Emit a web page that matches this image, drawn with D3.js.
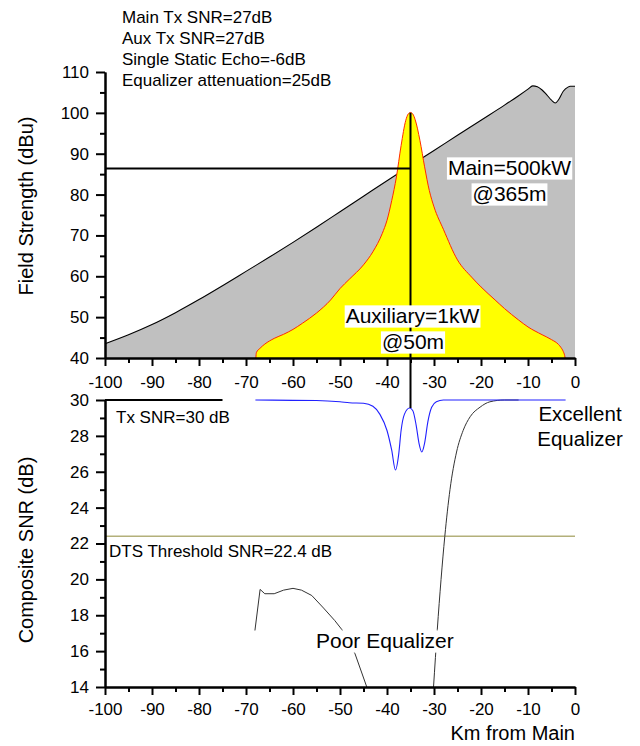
<!DOCTYPE html>
<html>
<head>
<meta charset="utf-8">
<script src="https://cdn.jsdelivr.net/npm/d3@7"></script>
<style>
  html, body { margin: 0; padding: 0; background: #fff; }
  svg text { font-family: "Liberation Sans", Arial, sans-serif; fill: #000; }
</style>
</head>
<body>
<svg id="chart" width="640" height="746"></svg>
<script>
// Main transmitter field strength (dBu) vs distance from main (km)
const mainKm  = [-100, -95, -90, -85, -80, -75, -70, -65, -60, -55, -50, -45, -40, -35, -30, -25, -20, -15, -12, -10, -9, -8, -7, -6, -5, -4.2, -3.5, -2.5, -1.5, -1, 0];
const mainDbu = [43.5, 45.7, 48.2, 51.1, 54.3, 57.7, 61.2, 64.7, 68.3, 72.0, 75.8, 79.6, 83.4, 87.1, 90.8, 94.5, 98.2, 101.9, 104.2, 105.8, 106.6, 106.4, 105.6, 104.4, 103.1, 102.4, 103.2, 105.3, 106.3, 106.5, 106.5];

// Auxiliary transmitter field strength (dBu)
const auxKm  = [-67.9, -67.8, -67, -66, -64, -62, -60, -58, -55, -52, -50, -48, -45, -43, -41, -40, -39, -38, -37, -36, -35.5, -35, -34.5, -34, -33, -32, -31, -30, -28, -25, -22, -20, -17, -15, -12, -10, -7, -5, -3.5, -3, -2.5, -2.2, -2.1];
const auxDbu = [40, 41.3, 42.4, 43.4, 44.8, 45.8, 47.0, 48.5, 51.0, 54.2, 57.0, 59.3, 62.8, 66.0, 70.5, 73.7, 78.5, 84.3, 92.0, 98.2, 99.7, 100.1, 99.7, 98.3, 93.3, 86.8, 81.0, 77.0, 71.5, 64.0, 59.8, 57.4, 54.2, 52.1, 49.3, 47.6, 45.7, 44.5, 43.3, 42.6, 41.6, 40.6, 40];

// Composite SNR with an excellent equalizer (dB)
const excKm  = [-68, -60, -55, -50, -48, -45, -43, -41.5, -40, -39, -38.2, -37.5, -37, -36.3, -35.2, -34.5, -33.8, -33.2, -32.6, -32, -31.3, -30.5, -29.5, -28, -2];
const excSnr = [30, 29.98, 29.97, 29.9, 29.85, 29.82, 29.65, 29.2, 28.3, 27.2, 26.1, 27.0, 28.3, 29.2, 29.55, 29.4, 28.6, 27.6, 27.1, 27.6, 28.8, 29.6, 29.9, 30, 30];

// Composite SNR with a poor equalizer (dB), two visible pieces
const poorKmA  = [-68.1, -67, -66, -64, -62, -60, -58.2, -56, -53.5, -51.1, -49.6, -46.8, -44.3];
const poorSnrA = [17.15, 19.44, 19.2, 19.2, 19.4, 19.5, 19.4, 19.1, 18.4, 17.7, 17.2, 15.85, 14.0];
const poorKmB  = [-30.1, -29.3, -28.5, -27.7, -26.6, -25.2, -23.8, -22.3, -20.2, -18.1, -15, -12];
const poorSnrB = [14.0, 17.2, 20.0, 22.4, 25.0, 27.1, 28.3, 29.07, 29.6, 29.9, 30, 30];

// Reference levels
const txSnr = 30;            // transmitter SNR
const txSnrEndKm = -75;
const dtsThreshold = 22.4;   // DTS threshold SNR
const auxSiteKm = -35;       // auxiliary site location
const auxPeakDbu = 100;
const mainAtAuxDbu = 86.4;
const auxSiteSnr = 29.55;

// Axis ticks
const xTicks = [-100, -90, -80, -70, -60, -50, -40, -30, -20, -10, 0];
const xMinor = d3.range(-95, 0, 10);
const fsTicks = [40, 50, 60, 70, 80, 90, 100, 110];
const fsMinor = [45, 55, 65, 75, 85, 95, 105];
const snrTicks = [14, 16, 18, 20, 22, 24, 26, 28, 30];
const snrMinor = [15, 17, 19, 21, 23, 25, 27, 29];

const notes = ["Main Tx SNR=27dB", "Aux Tx SNR=27dB", "Single Static Echo=-6dB", "Equalizer attenuation=25dB"];

const svg = d3.select("#chart");

const x = d3.scaleLinear().domain([-100, 0]).range([105, 575]);
const yTop = d3.scaleLinear().domain([40, 110]).range([358, 72]);
const yBot = d3.scaleLinear().domain([14, 30]).range([687, 400]);

const zip = (a, b) => a.map((v, i) => [v, b[i]]);
const plainNum = d => String(d);   // hyphen-minus, as in the printed labels

// ---- Field strength panel ----
const areaTop = d3.area().x(d => x(d[0])).y0(yTop(40)).y1(d => yTop(d[1])).curve(d3.curveMonotoneX);
const lineTop = d3.line().x(d => x(d[0])).y(d => yTop(d[1])).curve(d3.curveMonotoneX);

const mainPts = zip(mainKm, mainDbu);
svg.append("path").attr("d", areaTop(mainPts)).attr("fill", "#c0c0c0");
svg.append("path").attr("d", lineTop(mainPts)).attr("fill", "none").attr("stroke", "#000").attr("stroke-width", 1.1);

const auxPts = zip(auxKm, auxDbu);
svg.append("path").attr("d", areaTop(auxPts)).attr("fill", "#ffff00");
svg.append("path").attr("d", lineTop(auxPts)).attr("fill", "none").attr("stroke", "#ff2a00").attr("stroke-width", 1);

// ---- Composite SNR panel ----
const lineBot = d3.line().x(d => x(d[0])).y(d => yBot(d[1]));

svg.append("line")
  .attr("x1", x(-100)).attr("x2", x(0))
  .attr("y1", yBot(dtsThreshold)).attr("y2", yBot(dtsThreshold))
  .attr("stroke", "#b3b07a").attr("stroke-width", 1.5);

svg.append("line")
  .attr("x1", x(-100)).attr("x2", x(txSnrEndKm))
  .attr("y1", yBot(txSnr)).attr("y2", yBot(txSnr))
  .attr("stroke", "#000").attr("stroke-width", 2);

svg.append("path").attr("d", lineBot.curve(d3.curveLinear)(zip(poorKmA, poorSnrA)))
  .attr("fill", "none").attr("stroke", "#333").attr("stroke-width", 1);
svg.append("path").attr("d", lineBot.curve(d3.curveMonotoneX)(zip(poorKmB, poorSnrB)))
  .attr("fill", "none").attr("stroke", "#333").attr("stroke-width", 1);
svg.append("path").attr("d", lineBot.curve(d3.curveMonotoneX)(zip(excKm, excSnr)))
  .attr("fill", "none").attr("stroke", "#2020ff").attr("stroke-width", 1.1);

// Marker lines at the auxiliary site
svg.append("line")
  .attr("x1", x(-100)).attr("x2", x(auxSiteKm))
  .attr("y1", yTop(mainAtAuxDbu)).attr("y2", yTop(mainAtAuxDbu))
  .attr("stroke", "#000").attr("stroke-width", 2);
svg.append("line")
  .attr("x1", x(auxSiteKm)).attr("x2", x(auxSiteKm))
  .attr("y1", yTop(auxPeakDbu)).attr("y2", yBot(auxSiteSnr))
  .attr("stroke", "#000").attr("stroke-width", 2);

// ---- Axes ----
function styleAxis(g) {
  g.select(".domain").attr("stroke", "#000").attr("stroke-width", 2);
  g.selectAll(".tick line").attr("stroke", "#000").attr("stroke-width", 2);
  g.selectAll("text").attr("font-size", 17).attr("font-family", "Liberation Sans, Arial, sans-serif").attr("fill", "#000");
}
function xAxisAt(yPos, pad) {
  svg.append("g").attr("transform", `translate(0,${yPos})`)
    .call(d3.axisBottom(x).tickValues(xMinor).tickSize(5).tickFormat("").tickSizeOuter(0))
    .call(styleAxis);
  svg.append("g").attr("transform", `translate(0,${yPos})`)
    .call(d3.axisBottom(x).tickValues(xTicks).tickSize(8).tickPadding(pad).tickSizeOuter(0).tickFormat(plainNum))
    .call(styleAxis);
}
function yAxis(scale, major, minor) {
  svg.append("g").attr("transform", "translate(105,0)")
    .call(d3.axisLeft(scale).tickValues(minor).tickSize(5).tickFormat("").tickSizeOuter(0))
    .call(styleAxis);
  svg.append("g").attr("transform", "translate(105,0)")
    .call(d3.axisLeft(scale).tickValues(major).tickSize(9).tickPadding(7).tickSizeOuter(0).tickFormat(plainNum))
    .call(styleAxis);
}
xAxisAt(358, 10);
xAxisAt(687, 8);
yAxis(yTop, fsTicks, fsMinor);
yAxis(yBot, snrTicks, snrMinor);

// ---- Text ----
function label(txt, px, py, size, anchor, boxed) {
  const t = svg.append("text").attr("x", px).attr("y", py)
    .attr("font-size", size).attr("text-anchor", anchor || "start").text(txt);
  if (boxed) {
    const b = t.node().getBBox();
    svg.insert("rect", () => t.node())
      .attr("x", b.x - 1).attr("width", b.width + 2)
      .attr("y", py - size * 0.84).attr("height", size * 1.06)
      .attr("fill", "#fff");
  }
  return t;
}

notes.forEach((n, i) => label(n, 122, 23 + i * 21, 17));

label("Main=500kW", 509.5, 175, 21, "middle", true);
label("@365m", 509.5, 201, 21, "middle", true);
label("Auxiliary=1kW", 412.5, 323, 21, "middle", true);
label("@50m", 413, 349, 21, "middle", true);

label("Tx SNR=30 dB", 116, 423, 17);
label("DTS Threshold SNR=22.4 dB", 109, 557, 17);
label("Excellent", 580, 421, 20.5, "middle", true);
label("Equalizer", 580, 446, 20.5, "middle", true);
label("Poor Equalizer", 316, 648, 21, "start", true);

label("Km from Main", 575, 740, 20, "end");

svg.append("text").attr("transform", "translate(33,206) rotate(-90)")
  .attr("text-anchor", "middle").attr("font-size", 20).text("Field Strength (dBu)");
svg.append("text").attr("transform", "translate(33,550) rotate(-90)")
  .attr("text-anchor", "middle").attr("font-size", 20).text("Composite SNR (dB)");
</script>
</body>
</html>
